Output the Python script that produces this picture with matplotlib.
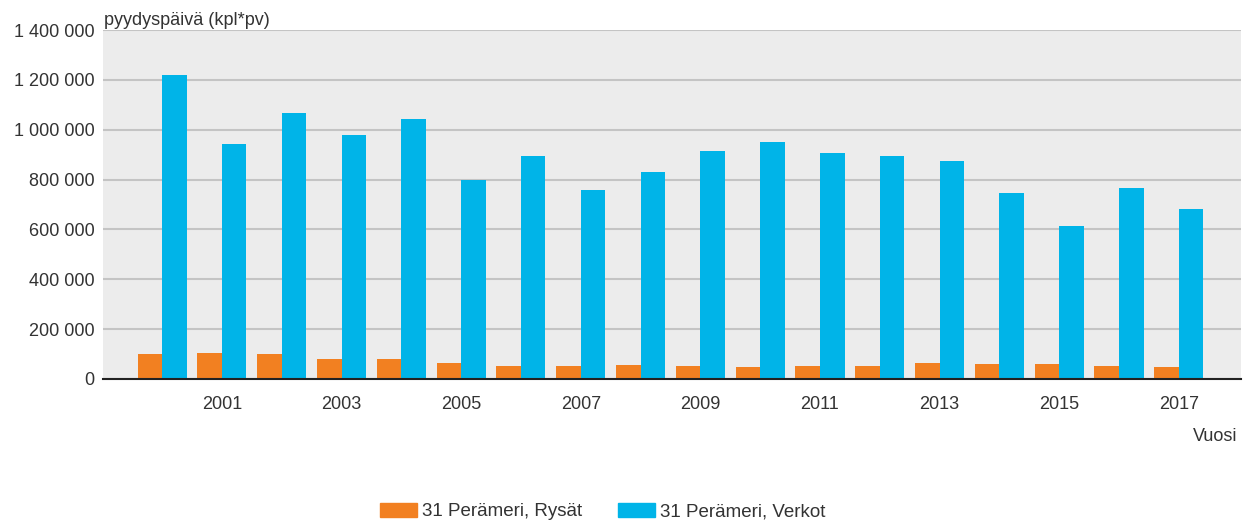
import numpy as np
import matplotlib
matplotlib.use('Agg')
import matplotlib.pyplot as plt
from matplotlib.patches import Patch

plt.rcParams['font.family'] = ['Liberation Sans', 'DejaVu Sans']

years = list(range(2000, 2018))
rysat = [100000, 104000, 100000, 82000, 82000, 66000, 54000, 54000, 57000,
         53000, 47000, 54000, 54000, 66000, 60000, 60000, 54000, 47000]
verkot = [1219000, 943000, 1067000, 979000, 1043000, 798000, 894000, 758000, 830000,
          915000, 951000, 906000, 894000, 874000, 746000, 614000, 766000, 682000]
yticks = [0, 200000, 400000, 600000, 800000, 1000000, 1200000, 1400000]
series_names = ['31 Perämeri, Rysät', '31 Perämeri, Verkot']

orange = '#f28021'
blue = '#00b4e8'
text_col = '#333333'

fig = plt.figure(figsize=(12.51, 5.22), dpi=100)
ax = fig.add_axes([0.0823, 0.274, 0.9097, 0.6685])
ax.set_facecolor('#ececec')

x = np.arange(len(years))
w = 0.41
ax.bar(x - w / 2, rysat, width=w, color=orange, zorder=3)
ax.bar(x + w / 2, verkot, width=w, color=blue, zorder=3)

ax.set_xlim(-0.99, 18.04)
ax.set_ylim(0, 1400000)
ax.set_yticks(yticks)
ax.set_yticklabels([f'{v:,}'.replace(',', ' ') for v in yticks])
ax.yaxis.grid(True, color='#c4c4c4', linewidth=1.5, zorder=0)

odd = [i for i, y in enumerate(years) if y % 2 == 1]
ax.set_xticks(odd)
ax.set_xticklabels([str(years[i]) for i in odd])

for s in ['top', 'right', 'left']:
    ax.spines[s].set_visible(False)
ax.spines['bottom'].set_color('#222222')
ax.spines['bottom'].set_linewidth(1.5)
ax.spines['bottom'].set_zorder(4)
ax.tick_params(axis='both', length=0, labelsize=13, labelcolor=text_col)
ax.tick_params(axis='x', pad=12)
ax.tick_params(axis='y', pad=6)

fig.text(0.0835, 0.952, 'pyydyspäivä (kpl*pv)', fontsize=13, color=text_col,
         ha='left', va='baseline')
fig.text(0.989, 0.163, 'Vuosi', fontsize=13, color=text_col, ha='right', va='center')

handles = [Patch(color=orange), Patch(color=blue)]
fig.legend(handles, series_names, loc='center', bbox_to_anchor=(0.482, 0.02),
           ncol=2, frameon=False, fontsize=13.5, handlelength=1.95, handleheight=0.8,
           columnspacing=1.9, handletextpad=0.3, labelcolor=text_col)

fig.savefig('out.png', dpi=100)
